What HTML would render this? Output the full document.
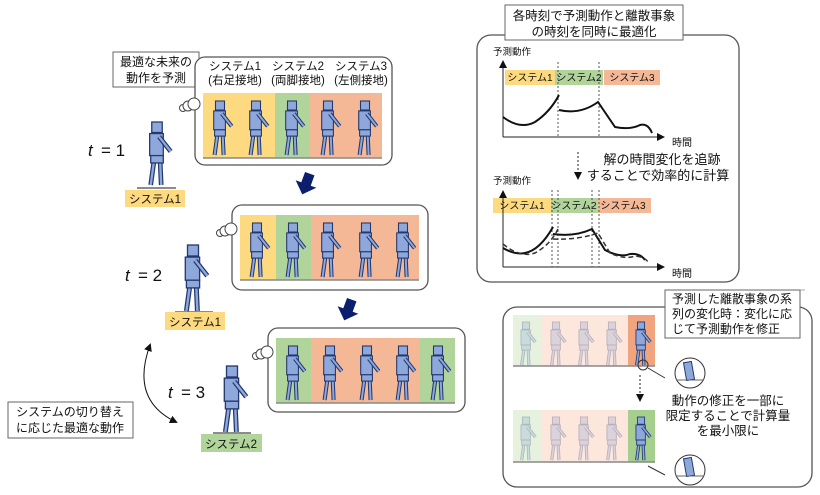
<!DOCTYPE html>
<html><head><meta charset="utf-8"><style>
body{margin:0;background:#fff}
svg{display:block;font-family:"Liberation Sans","Noto Sans CJK JP",sans-serif}
</style></head><body>
<svg width="820" height="495" viewBox="0 0 820 495" xmlns="http://www.w3.org/2000/svg">
<defs>
<g id="rb">
 <path d="M-3 38 L-6 60 M3 38 L4 60" stroke="#22386e" stroke-width="4.5" fill="none"/>
 <path d="M-3 38 L-6 60 M3 38 L4 60" stroke="#8fa8dc" stroke-width="2.2" fill="none"/>
 <rect x="-5" y="0" width="10" height="10" fill="#8fa8dc" stroke="#22386e" stroke-width="1.2"/>
 <rect x="-7" y="11" width="13" height="21" fill="#8fa8dc" stroke="#22386e" stroke-width="1.2"/>
 <rect x="-6" y="32" width="12" height="7" fill="#8fa8dc" stroke="#22386e" stroke-width="1.2"/>
 <path d="M2 14 L13 28" stroke="#22386e" stroke-width="4.5"/>
 <path d="M2 14 L13 28" stroke="#8fa8dc" stroke-width="2.2"/>
</g>
<g id="bub" fill="#fff" stroke="#444" stroke-width="1">
 <circle cx="0" cy="6" r="3.5"/><circle cx="5" cy="4" r="5"/><circle cx="11" cy="2" r="6"/>
</g>
<g id="barrow"><path d="M-5 -11 L5 -11 L5 0 L11 0 L0 11 L-11 0 L-5 0 Z" fill="#0b1f6e"/></g>
<marker id="ah" markerWidth="8" markerHeight="8" refX="6" refY="4" orient="auto-start-reverse"><path d="M0 0 L8 4 L0 8z" fill="#111"/></marker>
</defs>
<g font-size="12" fill="#111">
<!-- left panel 1 -->
<rect x="113" y="52" width="86" height="35" fill="#fff" stroke="#666"/>
<text x="156" y="66" text-anchor="middle">最適な未来の</text>
<text x="156" y="82" text-anchor="middle">動作を予測</text>
<rect x="195" y="57" width="197" height="108" rx="10" fill="#fff" stroke="#555" stroke-width="1.3"/>
<text x="235" y="70" text-anchor="middle" font-size="11.5">システム1</text>
<text x="235" y="84" text-anchor="middle" font-size="11.5">(右足接地)</text>
<text x="298" y="70" text-anchor="middle" font-size="11.5">システム2</text>
<text x="298" y="84" text-anchor="middle" font-size="11.5">(両脚接地)</text>
<text x="361" y="70" text-anchor="middle" font-size="11.5">システム3</text>
<text x="361" y="84" text-anchor="middle" font-size="11.5">(左側接地)</text>
<rect x="203" y="93" width="72" height="65" fill="#fdd97f"/>
<rect x="275" y="93" width="35" height="65" fill="#b0d49a"/>
<rect x="310" y="93" width="72" height="65" fill="#f4b896"/>
<line x1="203" y1="158" x2="382" y2="158" stroke="#888" stroke-width="1.5"/>
<use href="#rb" transform="translate(220,101) scale(0.9)"/>
<use href="#rb" transform="translate(256,101) scale(0.9)"/>
<use href="#rb" transform="translate(292,101) scale(0.9)"/>
<use href="#rb" transform="translate(328,101) scale(0.9)"/>
<use href="#rb" transform="translate(365,101) scale(0.9)"/>
<use href="#bub" transform="translate(183,102)"/>
<text x="88" y="156" font-size="17" font-style="italic">t</text><text x="101" y="156" font-size="17">= 1</text>
<use href="#rb" transform="translate(157,122) scale(1.05)"/>
<line x1="137" y1="188" x2="176" y2="188" stroke="#666" stroke-width="1.5"/>
<rect x="125" y="190" width="60" height="17" fill="#fdd97f"/>
<text x="155" y="203" text-anchor="middle" font-size="11.5">システム1</text>
<use href="#barrow" transform="translate(306,184) rotate(20)"/>
<!-- panel 2 -->
<rect x="232" y="205" width="196" height="85" rx="10" fill="#fff" stroke="#555" stroke-width="1.3"/>
<rect x="240" y="215" width="36" height="65" fill="#fdd97f"/>
<rect x="276" y="215" width="35" height="65" fill="#b0d49a"/>
<rect x="311" y="215" width="108" height="65" fill="#f4b896"/>
<line x1="240" y1="280" x2="419" y2="280" stroke="#888" stroke-width="1.5"/>
<use href="#rb" transform="translate(257,223) scale(0.9)"/>
<use href="#rb" transform="translate(293,223) scale(0.9)"/>
<use href="#rb" transform="translate(328,223) scale(0.9)"/>
<use href="#rb" transform="translate(366,223) scale(0.9)"/>
<use href="#rb" transform="translate(403,223) scale(0.9)"/>
<use href="#bub" transform="translate(220,227)"/>
<text x="125" y="281" font-size="17" font-style="italic">t</text><text x="138" y="281" font-size="17">= 2</text>
<use href="#rb" transform="translate(193,245) scale(1.1)"/>
<line x1="175" y1="312" x2="213" y2="312" stroke="#666" stroke-width="1.5"/>
<rect x="165" y="312" width="60" height="18" fill="#fdd97f"/>
<text x="195" y="326" text-anchor="middle" font-size="11.5">システム1</text>
<use href="#barrow" transform="translate(348,310) rotate(20)"/>
<!-- panel 3 -->
<rect x="268" y="328" width="197" height="84" rx="10" fill="#fff" stroke="#555" stroke-width="1.3"/>
<rect x="276" y="338" width="35" height="65" fill="#b0d49a"/>
<rect x="311" y="338" width="109" height="65" fill="#f4b896"/>
<rect x="420" y="338" width="35" height="65" fill="#b0d49a"/>
<line x1="276" y1="403" x2="455" y2="403" stroke="#888" stroke-width="1.5"/>
<use href="#rb" transform="translate(293,346) scale(0.9)"/>
<use href="#rb" transform="translate(330,346) scale(0.9)"/>
<use href="#rb" transform="translate(367,346) scale(0.9)"/>
<use href="#rb" transform="translate(403,346) scale(0.9)"/>
<use href="#rb" transform="translate(438,346) scale(0.9)"/>
<use href="#bub" transform="translate(256,350)"/>
<text x="168" y="398" font-size="17" font-style="italic">t</text><text x="181" y="398" font-size="17">= 3</text>
<use href="#rb" transform="translate(232,366) scale(1.1)"/>
<line x1="213" y1="433" x2="251" y2="433" stroke="#666" stroke-width="1.5"/>
<rect x="201" y="434" width="61" height="18" fill="#b0d49a"/>
<text x="231" y="448" text-anchor="middle" font-size="11.5">システム2</text>
<path d="M176 422 Q130 400 150 345" fill="none" stroke="#111" stroke-width="1" marker-start="url(#ah)" marker-end="url(#ah)"/>
<rect x="8" y="402" width="125" height="36" fill="#fff" stroke="#666"/>
<text x="70" y="416" text-anchor="middle">システムの切り替え</text>
<text x="70" y="432" text-anchor="middle">に応じた最適な動作</text>

<!-- right top -->
<rect x="477" y="35" width="262" height="247" rx="14" fill="#fff" stroke="#555" stroke-width="1.3"/>
<rect x="505" y="5" width="178" height="35" fill="#fff" stroke="#666"/>
<text x="594" y="20" text-anchor="middle" font-size="12.5">各時刻で予測動作と離散事象</text>
<text x="594" y="36" text-anchor="middle" font-size="12.5">の時刻を同時に最適化</text>
<text x="493" y="55" font-size="9.5">予測動作</text>
<rect x="505" y="70" width="50" height="15" fill="#fdd97f"/>
<rect x="555" y="70" width="48" height="15" fill="#b0d49a"/>
<rect x="604" y="70" width="56" height="15" fill="#f4b896"/>
<text x="530" y="81" text-anchor="middle" font-size="10">システム1</text>
<text x="579" y="81" text-anchor="middle" font-size="10">システム2</text>
<text x="632" y="81" text-anchor="middle" font-size="10">システム3</text>
<path d="M503 137 L503 62" stroke="#222" marker-end="url(#ah)"/>
<path d="M503 137 L663 137" stroke="#222" marker-end="url(#ah)"/>
<text x="672" y="146" font-size="10">時間</text>
<path d="M558 62 V137 M599 62 V137" stroke="#555" stroke-dasharray="2,2"/>
<path d="M503 117 Q520 130 535 122 Q550 112 559 95" fill="none" stroke="#111" stroke-width="2"/>
<path d="M559 110 Q580 115 598 102 L615 127 Q630 130 640 125 Q648 123 652 133" fill="none" stroke="#111" stroke-width="2"/>
<path d="M578 152 V178" stroke="#222" stroke-dasharray="2,2" marker-end="url(#ah)"/>
<text x="662" y="164" text-anchor="middle" font-size="13">解の時間変化を追跡</text>
<text x="658" y="180" text-anchor="middle" font-size="13">することで効率的に計算</text>
<text x="493" y="184" font-size="9.5">予測動作</text>
<rect x="493" y="198" width="58" height="15" fill="#fdd97f"/>
<rect x="551" y="198" width="46" height="15" fill="#b0d49a"/>
<rect x="597" y="198" width="54" height="15" fill="#f4b896"/>
<text x="522" y="209" text-anchor="middle" font-size="10">システム1</text>
<text x="574" y="209" text-anchor="middle" font-size="10">システム2</text>
<text x="623" y="209" text-anchor="middle" font-size="10">システム3</text>
<path d="M503 267 L503 192" stroke="#222" marker-end="url(#ah)"/>
<path d="M503 267 L663 267" stroke="#222" marker-end="url(#ah)"/>
<text x="672" y="277" font-size="10">時間</text>
<path d="M552 190 V267 M558 190 V267 M592 190 V267 M599 190 V267" stroke="#555" stroke-dasharray="2,2"/>
<path d="M503 248 Q515 255 525 253 Q540 250 553 227" fill="none" stroke="#111" stroke-width="2"/>
<path d="M503 244 Q520 258 535 253 Q550 245 558 229" fill="none" stroke="#333" stroke-width="1.5" stroke-dasharray="5,3"/>
<path d="M553 234 Q575 237 592 229 L605 250 Q620 258 630 254 Q640 253 645 260" fill="none" stroke="#111" stroke-width="2"/>
<path d="M553 239 Q578 240 598 233 L610 253 Q625 260 635 256 Q645 257 648 262" fill="none" stroke="#333" stroke-width="1.5" stroke-dasharray="5,3"/>
<line x1="665" y1="290" x2="805" y2="290" stroke="#aaa"/>

<!-- right bottom -->
<rect x="503" y="307" width="309" height="180" rx="14" fill="#fff" stroke="#555" stroke-width="1.3"/>
<rect x="513" y="315" width="29" height="51" fill="#e6f2de"/>
<rect x="542" y="315" width="86" height="51" fill="#fde6dc"/>
<rect x="628" y="315" width="27" height="51" fill="#f0a57e"/>
<line x1="513" y1="366" x2="655" y2="366" stroke="#888" stroke-width="1.5"/>
<rect x="513" y="410" width="29" height="52" fill="#e6f2de"/>
<rect x="542" y="410" width="86" height="52" fill="#fde6dc"/>
<rect x="628" y="410" width="27" height="52" fill="#a6cf8e"/>
<line x1="513" y1="462" x2="655" y2="462" stroke="#888" stroke-width="1.5"/>
<g opacity="0.3">
<use href="#rb" transform="translate(526,322) scale(0.72)"/>
<use href="#rb" transform="translate(556,322) scale(0.72)"/>
<use href="#rb" transform="translate(584,322) scale(0.72)"/>
<use href="#rb" transform="translate(612,322) scale(0.72)"/>
<use href="#rb" transform="translate(526,417) scale(0.72)"/>
<use href="#rb" transform="translate(556,417) scale(0.72)"/>
<use href="#rb" transform="translate(584,417) scale(0.72)"/>
<use href="#rb" transform="translate(612,417) scale(0.72)"/>
</g>
<use href="#rb" transform="translate(641,322) scale(0.72)"/>
<use href="#rb" transform="translate(641,417) scale(0.72)"/>
<circle cx="643" cy="365" r="5" fill="none" stroke="#333"/>
<path d="M648 368 L665 378" stroke="#333"/>
<circle cx="690" cy="373" r="15" fill="#fff" stroke="#333"/>
<rect x="685" y="362" width="8" height="18" fill="#8fa8dc" stroke="#22386e" transform="rotate(-10 689 371)"/>
<line x1="676" y1="380" x2="704" y2="380" stroke="#666"/>
<path d="M640 375 V400" stroke="#222" stroke-dasharray="2,2" marker-end="url(#ah)"/>
<path d="M648 466 L665 475" stroke="#333"/>
<circle cx="690" cy="470" r="15" fill="#fff" stroke="#333"/>
<rect x="685" y="458" width="8" height="18" fill="#8fa8dc" stroke="#22386e" transform="rotate(-10 689 467)"/>
<line x1="676" y1="476" x2="704" y2="476" stroke="#666"/>
<rect x="665" y="290" width="135" height="48" fill="#fff" stroke="#666"/>
<text x="672" y="303" font-size="12">予測した離散事象の系</text>
<text x="672" y="318" font-size="12">列の変化時：変化に応</text>
<text x="672" y="333" font-size="12">じて予測動作を修正</text>
<text x="728" y="405" text-anchor="middle" font-size="12.5">動作の修正を一部に</text>
<text x="728" y="420" text-anchor="middle" font-size="12.5">限定することで計算量</text>
<text x="728" y="435" text-anchor="middle" font-size="12.5">を最小限に</text>
</g>
</svg>
</body></html>
